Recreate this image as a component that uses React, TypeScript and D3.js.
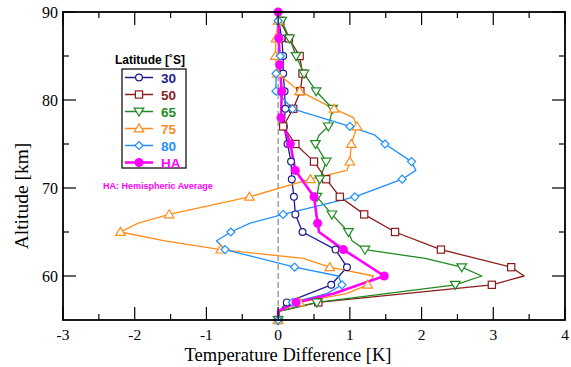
import React from "react";
import * as d3 from "d3";

const W = 571;
const H = 367;
const PLOT = { left: 63, right: 565, top: 12, bottom: 320 };

// Axis ticks
const xMajor = [-3, -2, -1, 0, 1, 2, 3, 4];
const xMinor = [-2.5, -1.5, -0.5, 0.5, 1.5, 2.5, 3.5];
const yMajor = [60, 70, 80, 90];
const yMinor = [65, 75, 85];

// Temperature difference profiles [K] vs altitude [km]
const alt30 = [89, 87, 85, 83, 81, 79, 77, 75, 73, 71, 69, 67, 65, 63, 61, 59, 57, 56, 55];
const dT30 = [0.01, 0.05, 0.07, 0.07, 0.09, 0.1, 0.08, 0.13, 0.18, 0.19, 0.22, 0.24, 0.34, 0.8, 0.96, 0.74, 0.12, 0.02, 0];

const alt50 = [89, 87, 85, 83, 81, 79, 77, 75, 73, 71, 69, 67, 65, 63, 61, 60, 59, 57, 56, 55];
const dT50 = [0.03, 0.15, 0.3, 0.34, 0.31, 0.21, 0.07, 0.24, 0.5, 0.67, 0.86, 1.2, 1.63, 2.27, 3.25, 3.43, 2.98, 0.56, 0.02, 0];

const alt65 = [89, 87, 85, 83, 81, 79, 77, 76, 75, 73, 71, 69, 67, 65, 64, 63, 62, 61, 60, 59, 57, 56, 55];
const dT65 = [0.05, 0.16, 0.25, 0.36, 0.53, 0.76, 0.7, 0.57, 0.52, 0.67, 0.58, 0.54, 0.75, 0.98, 1.03, 1.21, 2.05, 2.56, 2.84, 2.47, 0.54, 0.02, 0];

const alt75 = [89, 87, 85, 83, 81, 79, 78, 77, 75, 73, 72, 71, 69, 67, 66, 65, 64, 63, 62, 61, 60, 59, 58, 57, 56, 55];
const dT75 = [0, -0.03, -0.04, -0.01, 0.3, 0.78, 1.05, 1.1, 1.02, 1.0, 0.96, 0.45, -0.4, -1.52, -1.95, -2.2, -1.58, -0.8, 0.35, 0.72, 1.33, 1.25, 0.95, 0.3, 0.02, 0];

const alt80 = [89, 87, 85, 83, 81, 79, 77, 76, 75, 73, 72, 71, 69, 67, 66, 65, 64, 63, 61, 60, 59, 58, 57, 56, 55];
const dT80 = [0, 0.01, 0.03, -0.03, -0.03, 0.2, 1.0, 1.35, 1.49, 1.86, 1.92, 1.73, 1.07, 0.07, -0.39, -0.66, -0.86, -0.74, 0.23, 0.84, 0.89, 0.68, 0.2, 0.02, 0];

const altHA = [90, 87, 84, 81, 78, 75, 72, 69, 66, 65, 63, 60, 58, 57, 56, 55];
const dTHA = [0, 0.01, 0.02, 0.05, 0.04, 0.17, 0.24, 0.5, 0.55, 0.57, 0.91, 1.48, 0.78, 0.25, 0, 0];

// Altitudes that carry a symbol
const latMarkerAlts = [89, 87, 85, 83, 81, 79, 77, 75, 73, 71, 69, 67, 65, 63, 61, 59, 57, 55];
const haMarkerAlts = [90, 87, 84, 81, 78, 75, 72, 69, 66, 63, 60, 57];

const labels = ["30", "50", "65", "75", "80", "HA"];
const colors = ["#1c1c8e", "#8b1c1c", "#1f8a1f", "#ff8c1a", "#1e8fff", "#ff00ff"];
const symbols = ["circle", "square", "triDown", "triUp", "diamond", "dot"];

const seriesList = [
  { alts: alt30, vals: dT30, markers: latMarkerAlts },
  { alts: alt50, vals: dT50, markers: latMarkerAlts },
  { alts: alt65, vals: dT65, markers: latMarkerAlts },
  { alts: alt75, vals: dT75, markers: latMarkerAlts },
  { alts: alt80, vals: dT80, markers: latMarkerAlts },
  { alts: altHA, vals: dTHA, markers: haMarkerAlts },
].map((s, i) => ({ ...s, label: labels[i], color: colors[i], symbol: symbols[i] }));

const SANS = "'Liberation Sans', Arial, Helvetica, sans-serif";
const SERIF = "'Liberation Serif', 'Times New Roman', Times, serif";

function Marker({ kind, x, y, color }: { kind: string; x: number; y: number; color: string }) {
  const sw = 1.2;
  switch (kind) {
    case "circle":
      return <circle cx={x} cy={y} r={3.4} fill="white" stroke={color} strokeWidth={sw} />;
    case "square":
      return <rect x={x - 3.6} y={y - 3.6} width={7.2} height={7.2} fill="white" stroke={color} strokeWidth={sw} />;
    case "triUp":
      return (
        <path d={`M${x},${y - 4.6}L${x + 4.8},${y + 3.4}L${x - 4.8},${y + 3.4}Z`} fill="white" stroke={color} strokeWidth={sw} />
      );
    case "triDown":
      return (
        <path d={`M${x},${y + 4.6}L${x + 4.8},${y - 3.4}L${x - 4.8},${y - 3.4}Z`} fill="white" stroke={color} strokeWidth={sw} />
      );
    case "diamond":
      return (
        <path d={`M${x},${y - 4}L${x + 4},${y}L${x},${y + 4}L${x - 4},${y}Z`} fill="white" stroke={color} strokeWidth={sw} />
      );
    default:
      return <circle cx={x} cy={y} r={4.5} fill={color} />;
  }
}

export default function App() {
  const x = d3.scaleLinear().domain([-3, 4]).range([PLOT.left, PLOT.right]);
  const y = d3.scaleLinear().domain([55, 90]).range([PLOT.bottom, PLOT.top]);

  const line = d3
    .line<[number, number]>()
    .x((d) => x(d[1]))
    .y((d) => y(d[0]));

  const majorLen = 13;
  const minorLen = 6;

  // Legend placement
  const legX = 122;
  const legY = 69;
  const legW = 64;
  const legH = 99;
  const rowY0 = 77.5;
  const rowDy = 17;

  return (
    <svg
      width={W}
      height={H}
      viewBox={`0 0 ${W} ${H}`}
      style={{ position: "fixed", left: 0, top: 0, background: "white" }}
    >
      <rect width={W} height={H} fill="white" />

      {/* zero reference */}
      <line
        x1={x(0)}
        x2={x(0)}
        y1={PLOT.top}
        y2={PLOT.bottom}
        stroke="#8a8a8a"
        strokeWidth={1.2}
        strokeDasharray="6,3"
      />

      {/* profiles */}
      {seriesList.map((s) => {
        const pts = s.alts.map((a, i) => [a, s.vals[i]] as [number, number]);
        return (
          <path
            key={"l" + s.label}
            d={line(pts) || ""}
            fill="none"
            stroke={s.color}
            strokeWidth={s.symbol === "dot" ? 2.6 : 1.3}
            strokeLinejoin="round"
          />
        );
      })}
      {seriesList.map((s) => (
        <g key={"m" + s.label}>
          {s.alts.map((a, i) =>
            s.markers.includes(a) ? (
              <Marker key={a} kind={s.symbol} x={x(s.vals[i])} y={y(a)} color={s.color} />
            ) : null
          )}
        </g>
      ))}

      {/* frame */}
      <rect
        x={PLOT.left}
        y={PLOT.top}
        width={PLOT.right - PLOT.left}
        height={PLOT.bottom - PLOT.top}
        fill="none"
        stroke="black"
        strokeWidth={1.8}
      />

      {/* x ticks bottom and top */}
      {xMajor.map((v) => (
        <g key={"xM" + v}>
          <line x1={x(v)} x2={x(v)} y1={PLOT.bottom} y2={PLOT.bottom - majorLen} stroke="black" strokeWidth={1.2} />
          <line x1={x(v)} x2={x(v)} y1={PLOT.top} y2={PLOT.top + majorLen} stroke="black" strokeWidth={1.2} />
          <text
            x={x(v)}
            y={339.5}
            textAnchor="middle"
            fontFamily={SERIF}
            fontSize={15.5}
            fill="black"
          >
            {v}
          </text>
        </g>
      ))}
      {xMinor.map((v) => (
        <g key={"xm" + v}>
          <line x1={x(v)} x2={x(v)} y1={PLOT.bottom} y2={PLOT.bottom - minorLen} stroke="black" strokeWidth={1.2} />
          <line x1={x(v)} x2={x(v)} y1={PLOT.top} y2={PLOT.top + minorLen} stroke="black" strokeWidth={1.2} />
        </g>
      ))}

      {/* y ticks left and right */}
      {yMajor.map((v) => (
        <g key={"yM" + v}>
          <line x1={PLOT.left} x2={PLOT.left + majorLen} y1={y(v)} y2={y(v)} stroke="black" strokeWidth={1.2} />
          <line x1={PLOT.right} x2={PLOT.right - majorLen} y1={y(v)} y2={y(v)} stroke="black" strokeWidth={1.2} />
          <text
            x={58}
            y={y(v) + 5.5}
            textAnchor="end"
            fontFamily={SERIF}
            fontSize={16}
            fill="black"
          >
            {v}
          </text>
        </g>
      ))}
      {yMinor.map((v) => (
        <g key={"ym" + v}>
          <line x1={PLOT.left} x2={PLOT.left + minorLen} y1={y(v)} y2={y(v)} stroke="black" strokeWidth={1.2} />
          <line x1={PLOT.right} x2={PLOT.right - minorLen} y1={y(v)} y2={y(v)} stroke="black" strokeWidth={1.2} />
        </g>
      ))}

      {/* axis titles */}
      <text x={288} y={360.5} textAnchor="middle" fontFamily={SERIF} fontSize={18.5} fill="black">
        Temperature Difference [K]
      </text>
      <text
        transform={`translate(28,196) rotate(-90)`}
        textAnchor="middle"
        fontFamily={SERIF}
        fontSize={19.5}
        fill="black"
      >
        Altitude [km]
      </text>

      {/* legend */}
      <text x={115} y={64} fontFamily={SANS} fontWeight="bold" fontSize={12} fill="black">
        Latitude [˚S]
      </text>
      <rect x={legX} y={legY} width={legW} height={legH} fill="white" stroke="black" strokeWidth={1.2} />
      {seriesList.map((s, i) => {
        const cy = rowY0 + i * rowDy;
        return (
          <g key={"leg" + s.label}>
            <line
              x1={125}
              x2={153}
              y1={cy}
              y2={cy}
              stroke={s.color}
              strokeWidth={s.symbol === "dot" ? 2.6 : 1.5}
            />
            <Marker kind={s.symbol} x={139} y={cy} color={s.color} />
            <text
              x={161}
              y={cy + 5}
              fontFamily={SANS}
              fontWeight="bold"
              fontSize={13.5}
              fill={s.color}
            >
              {s.label}
            </text>
          </g>
        );
      })}
      <text x={103} y={189} fontFamily={SANS} fontWeight="bold" fontSize={9} fill="#ff00ff">
        HA: Hemispheric Average
      </text>
    </svg>
  );
}
